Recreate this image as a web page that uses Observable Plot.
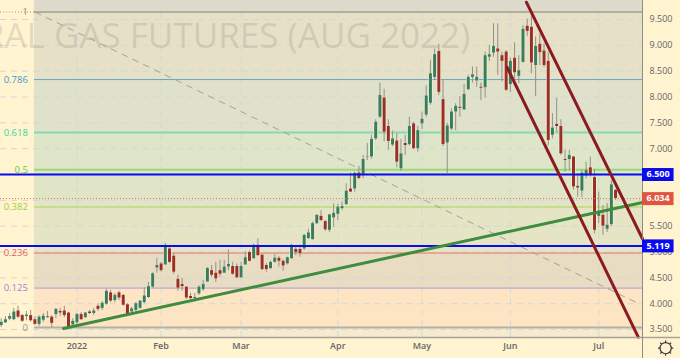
<!DOCTYPE html>
<html><head><meta charset="utf-8">
<script src="https://cdn.jsdelivr.net/npm/d3@7"></script>
<script src="https://cdn.jsdelivr.net/npm/@observablehq/plot@0.6"></script>
<style>
html,body{margin:0;padding:0;background:#fff3d0;overflow:hidden}
svg{display:block}
</style></head><body><div id="chart"></div>
<script>
const open=[3.58,3.63,3.70,3.69,3.86,3.77,3.75,3.77,3.69,3.60,
3.68,3.73,3.74,3.79,3.85,3.86,3.82,3.59,3.63,3.79,
3.73,3.84,3.81,3.95,3.91,3.99,4.21,4.06,4.21,4.16,
3.98,3.84,3.87,3.91,4.02,4.12,4.32,4.69,4.77,4.75,
5.06,4.92,4.47,4.37,4.32,4.14,4.10,4.19,4.27,4.42,
4.64,4.59,4.64,4.59,4.71,4.72,4.72,4.50,4.75,4.99,
4.87,5.13,4.94,4.74,4.68,4.80,4.88,4.82,4.77,4.87,
5.05,5.05,5.06,5.26,5.24,5.55,5.69,5.59,5.42,5.66,
5.73,5.84,5.92,6.22,6.22,6.53,6.48,6.84,6.84,7.19,
7.61,7.98,7.43,7.07,7.15,6.61,7.10,7.08,7.48,7.00,
7.48,7.65,7.88,8.38,8.88,7.95,7.11,7.38,7.71,7.80,
7.75,8.14,8.38,8.31,8.19,8.18,8.77,8.85,8.93,8.80,
8.87,8.24,8.75,8.40,8.67,9.37,9.35,8.61,9.02,8.89,
8.69,7.26,7.47,7.43,6.79,6.79,6.84,6.27,6.18,6.47,
6.63,6.44,5.69,5.71,5.44,5.53,6.19];
const close=[3.64,3.69,3.75,3.84,3.74,3.66,3.78,3.67,3.60,3.74,
3.76,3.75,3.62,3.89,3.82,3.77,3.53,3.66,3.79,3.69,
3.82,3.81,3.86,3.89,4.01,4.24,4.05,4.16,4.11,3.97,
3.79,3.90,4.00,4.05,4.15,4.33,4.58,4.74,4.64,5.13,
4.80,4.61,4.30,4.33,4.11,4.10,4.12,4.32,4.37,4.68,
4.55,4.48,4.57,4.71,4.76,4.57,4.50,4.72,4.89,4.82,
5.13,4.93,4.66,4.66,4.80,4.88,4.82,4.73,4.89,5.13,
4.99,4.97,5.32,5.37,5.55,5.71,5.61,5.43,5.72,5.75,
5.87,5.88,6.18,6.16,6.52,6.42,6.79,6.85,7.18,7.51,
8.03,7.32,7.14,7.19,6.74,6.90,7.06,7.43,7.00,7.35,
7.57,8.02,8.45,8.82,8.09,7.08,7.44,7.71,7.82,7.78,
8.05,8.38,8.43,8.38,8.17,8.80,8.82,8.98,8.87,8.69,
8.13,8.69,8.47,8.51,9.31,9.27,8.66,8.98,8.86,8.61,
7.16,7.40,7.43,6.90,6.77,6.87,6.26,6.24,6.53,6.58,
6.48,5.42,5.75,5.50,5.52,6.30,6.034];
const high=[3.71,3.75,3.81,3.91,3.95,3.79,3.85,3.87,3.75,3.77,
3.81,3.85,3.77,3.91,3.91,3.95,3.83,3.71,3.81,3.83,
3.83,3.87,3.91,4.00,4.04,4.28,4.26,4.20,4.24,4.18,
4.00,3.93,4.02,4.06,4.31,4.41,4.60,4.88,4.80,5.17,
5.09,4.97,4.55,4.49,4.33,4.20,4.20,4.35,4.45,4.70,
4.74,4.80,4.84,4.84,5.04,4.80,4.77,4.80,5.00,5.02,
5.15,5.26,4.95,4.78,4.82,4.95,4.91,4.85,4.90,5.15,
5.10,5.13,5.34,5.44,5.58,5.72,5.80,5.61,5.73,5.93,
5.92,5.97,6.32,6.53,6.55,6.66,6.87,7.10,7.26,7.56,
8.27,8.15,7.56,7.34,7.29,7.18,7.26,7.61,7.51,7.43,
7.71,8.22,8.71,8.93,9.02,8.33,7.49,7.77,7.87,8.01,
8.24,8.42,8.58,8.58,8.27,8.87,9.00,9.42,9.42,8.87,
8.90,8.75,9.05,8.80,9.38,9.51,9.67,9.16,9.22,9.03,
8.87,7.68,7.98,7.56,6.97,6.97,6.85,6.51,6.59,6.74,
6.84,6.60,6.16,5.90,5.94,6.38,6.21];
const low=[3.54,3.62,3.67,3.67,3.71,3.64,3.67,3.64,3.58,3.56,
3.64,3.72,3.54,3.71,3.75,3.73,3.50,3.58,3.60,3.68,
3.71,3.79,3.77,3.85,3.87,3.97,4.02,4.02,4.06,3.95,
3.75,3.81,3.85,3.89,4.00,4.10,4.30,4.59,4.61,4.74,
4.78,4.57,4.24,4.24,4.08,4.08,4.04,4.16,4.24,4.42,
4.51,4.41,4.51,4.59,4.64,4.55,4.49,4.49,4.74,4.81,
4.86,4.92,4.64,4.61,4.66,4.79,4.71,4.63,4.75,4.86,
4.93,4.90,5.03,5.25,5.23,5.53,5.59,5.40,5.38,5.48,
5.61,5.80,5.90,6.15,6.16,6.41,6.42,6.77,6.80,7.16,
7.58,7.13,6.97,7.04,6.63,6.56,6.87,7.05,6.98,6.93,
7.37,7.61,7.84,8.33,8.03,7.04,6.52,7.35,7.35,7.61,
7.74,8.13,8.27,8.19,7.93,7.98,8.69,8.77,8.42,8.29,
8.11,8.09,8.35,8.26,8.66,9.17,8.45,8.01,8.61,8.57,
7.06,7.19,7.32,6.87,6.55,6.57,6.20,6.06,6.05,6.42,
6.45,5.35,5.55,5.32,5.38,5.49,6.00];

const fibLabels=["1","0.786","0.618","0.5","0.382","0.236","0.125","0"];
const fibPrices=[9.645,8.338,7.313,6.593,5.872,4.981,4.303,3.54];
const fibLine=["#a09d92","#62a6c6","#84dcae","#96dc76","#aad24c","#e07070","#ab93da","#b5b0a0"];
const fibWidth=[1.5,1,2,2,1,1,1,2];
const fibText=["#8f8d84","#3f9bd2","#3fd3a2","#5cd040","#9ed232","#e85c5c","#a382e0","#9a9a92"];
const bandTop=[9.868,9.645,8.338,7.313,6.593,5.872,4.981,4.303,3.54];
const bandBottom=[9.645,8.338,7.313,6.593,5.872,4.981,4.303,3.54,3.346];
const bandFill=["#dedbcc","#e5e0c6","#dfe1ca","#dfe5c8","#dfe5c6","#e5e4c4","#e8dcc2","#fde5c4","#f6ead0"];

const monthIndex=[18,38,57,80,100,121,142];
const monthLabels=["2022","Feb","Mar","Apr","May","Jun","Jul"];
const gridPrices=[3.5,4,4.5,5,5.5,6,6.5,7,7.5,8,8.5,9,9.5];
const priceTicks=[3.5,4,4.5,5,5.5,7,7.5,8,8.5,9,9.5];

const hLines=[6.5,5.119];
const hLineLabels=["6.500","5.119"];
const lastPrice=6.034;

const trendGreen=[[14.8,3.52],[152.4,5.96]];
const channelUpper=[[124.8,9.835],[152.4,5.257]];
const channelLower=[[120.2,8.577],[151.4,3.353]];
const dashedDiagonal=[[8.15,9.64],[151.9,3.985]];

const xLeftStrip=7.9, xPlotEnd=152.4, xMin=-0.166, xMax=161.5;
const yBottom=3.346, yTop=9.868, yPage=2.94;

const bars=open.map((o,i)=>({i,open:o,close:close[i],high:high[i],low:low[i],
  top:Math.max(o,close[i]),bot:Math.min(o,close[i]),color:close[i]>=o?"#3a7d5b":"#9c2f24"}));
const bands=bandTop.map((t,i)=>({t,b:bandBottom[i],f:bandFill[i]}));
const fibs=fibPrices.map((p,i)=>({p,label:fibLabels[i],line:fibLine[i],w:fibWidth[i],text:fibText[i]}));
const boxes=[{p:hLines[0],l:hLineLabels[0],c:"#0a0af0"},{p:hLines[1],l:hLineLabels[1],c:"#0a0af0"},{p:lastPrice,l:lastPrice.toFixed(3),c:"#e0553f"}];

const gear={draw(ctx,size){
  const R=5.6,T=7.6,n=8;
  for(let k=0;k<n;k++){
    const a=k/n*2*Math.PI;
    ctx.moveTo(R*Math.cos(a),R*Math.sin(a));
    ctx.lineTo(T*Math.cos(a),T*Math.sin(a));
  }
  ctx.moveTo(R,0);ctx.arc(0,0,R,0,2*Math.PI);
}};
const line=(pts,opts)=>Plot.line(pts,{x:d=>d[0],y:d=>d[1],...opts});
const FONT="'Open Sans',sans-serif";

const chart=Plot.plot({
  width:680,height:358,marginLeft:0,marginRight:38,marginTop:0,marginBottom:21,
  style:{background:"#fff3d0",fontFamily:FONT,fontSize:"9px",overflow:"hidden"},
  x:{type:"linear",domain:[xMin,xPlotEnd]},
  y:{type:"linear",domain:[yBottom,yTop]},
  marks:[
    Plot.rect(bands,{x1:xLeftStrip,x2:xPlotEnd,y1:"b",y2:"t",fill:"f"}),
    Plot.ruleY(gridPrices,{x1:xMin,x2:xPlotEnd,stroke:"#d3d8d6",strokeDasharray:"6,5",strokeWidth:1}),
    Plot.ruleX(monthIndex,{y1:yBottom,y2:yTop,stroke:"#d3d8d6",strokeDasharray:"6,5",strokeWidth:1}),
    Plot.text(["NATURAL GAS FUTURES (AUG 2022)"],{x:111.5,y:8.94,text:d=>d,textAnchor:"end",lineAnchor:"bottom",fontSize:35,fontFamily:FONT,fill:"#8f8d7a",fillOpacity:0.25}),
    Plot.ruleY([fibPrices[0]],{x1:xMin,x2:xLeftStrip,stroke:"#a09d92",strokeDasharray:"1,2"}),
    Plot.ruleY(fibs,{y:"p",x1:xLeftStrip,x2:xPlotEnd,stroke:"line",strokeWidth:"w"}),
    Plot.text(fibs,{x:6.35,y:"p",text:"label",textAnchor:"end",fill:"text",fontSize:9.5,fontFamily:FONT}),
    line(dashedDiagonal,{stroke:"#a5a297",strokeWidth:1,strokeDasharray:"6,6"}),
    Plot.ruleX(bars,{x:"i",y1:"low",y2:"high",stroke:"#92928a",strokeWidth:1}),
    Plot.ruleX(bars,{x:"i",y1:"bot",y2:"top",stroke:"#f8f6e6",strokeOpacity:0.7,strokeWidth:4.4}),
    Plot.ruleX(bars,{x:"i",y1:"bot",y2:"top",stroke:"color",strokeWidth:3}),
    Plot.ruleY([lastPrice],{x1:xMin,x2:xPlotEnd,stroke:"#ea6a50",strokeDasharray:"1,2"}),
    Plot.ruleY(hLines,{x1:xMin,x2:xPlotEnd,stroke:"#0a0af0",strokeWidth:2}),
    line(trendGreen,{stroke:"#3f8c3f",strokeWidth:3}),
    line(channelUpper,{stroke:"#8b1a22",strokeWidth:3}),
    line(channelLower,{stroke:"#8b1a22",strokeWidth:3}),
    Plot.ruleY([yBottom],{x1:xMin,x2:xMax,stroke:"#a6a396",strokeWidth:1.5}),
    Plot.ruleX([xPlotEnd],{y1:yPage,y2:yTop,stroke:"#8f8d84",strokeWidth:1}),
    Plot.axisY({anchor:"right",ticks:priceTicks,tickSize:0,tickPadding:7,label:null,tickFormat:d3.format(".3f"),fontSize:9,fill:"#666",fontFamily:FONT}),
    Plot.axisX({ticks:monthIndex,tickSize:0,tickPadding:5,label:null,tickFormat:d=>monthLabels[monthIndex.indexOf(d)],fontSize:9,fontWeight:600,fill:"#666",fontFamily:FONT}),
    Plot.ruleY(boxes,{y:"p",x1:xPlotEnd,x2:159.9,stroke:"c",strokeWidth:13}),
    Plot.text(boxes,{x:156.1,y:"p",text:"l",fill:"#fff",fontSize:9,fontWeight:700,fontFamily:FONT}),
    Plot.dot([[157.9,3.14]],{x:d=>d[0],y:d=>d[1],symbol:gear,r:6,stroke:"#333",strokeWidth:1.2,fill:"none"})
  ]
});
document.getElementById("chart").appendChild(chart);
</script></body></html>
